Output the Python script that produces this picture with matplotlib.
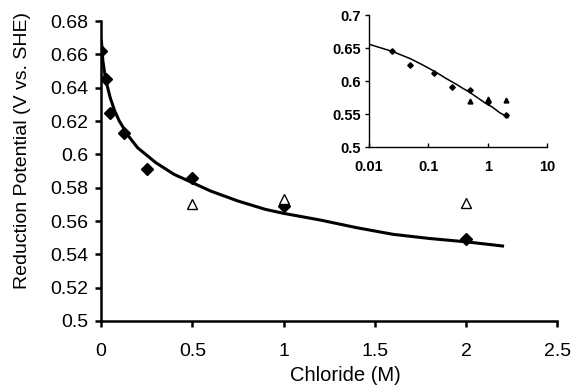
import matplotlib
matplotlib.use("Agg")
import matplotlib.pyplot as plt
from matplotlib.ticker import FixedLocator, NullLocator

plt.rcParams['font.family'] = ['Liberation Sans', 'DejaVu Sans']

# measured points (diamonds) and second data set (triangles)
dia_x = [0.0, 0.025, 0.05, 0.125, 0.25, 0.5, 1.0, 2.0]
dia_y = [0.662, 0.645, 0.625, 0.613, 0.591, 0.586, 0.569, 0.549]
tri_x = [0.5, 1.0, 2.0]
tri_y = [0.570, 0.573, 0.571]

# model curve
fit_x = [0.002, 0.01, 0.025, 0.05, 0.075, 0.1, 0.15, 0.2, 0.3, 0.4, 0.5,
         0.6, 0.75, 0.9, 1.0, 1.2, 1.4, 1.6, 1.8, 2.0, 2.2]
fit_y = [0.668, 0.656, 0.645, 0.634, 0.626, 0.620, 0.611, 0.604, 0.595,
         0.588, 0.583, 0.578, 0.572, 0.567, 0.5646, 0.5606, 0.556, 0.552,
         0.5495, 0.5475, 0.545]

fig = plt.figure(figsize=(5.71, 3.90), dpi=100)
ax = fig.add_axes([0.177, 0.177, 0.799, 0.769])

ax.plot(fit_x, fit_y, color='black', lw=2.2, zorder=2)
ax.plot(dia_x, dia_y, 'D', color='black', ms=6.5, zorder=3)
ax.plot(tri_x, tri_y, '^', mfc='white', mec='black', mew=1, ms=7.5, zorder=3)

ax.set_xlim(0, 2.5)
ax.set_ylim(0.5, 0.68)
ax.set_xticks([0, 0.5, 1, 1.5, 2, 2.5])
ax.set_xticklabels(['0', '0.5', '1', '1.5', '2', '2.5'])
ax.set_yticks([0.5, 0.52, 0.54, 0.56, 0.58, 0.6, 0.62, 0.64, 0.66, 0.68])
ax.set_yticklabels(['0.5', '0.52', '0.54', '0.56', '0.58', '0.6', '0.62', '0.64', '0.66', '0.68'])
ax.spines['top'].set_visible(False)
ax.spines['right'].set_visible(False)
for s in ['left', 'bottom']:
    ax.spines[s].set_linewidth(1.8)
ax.tick_params(direction='out', length=4, width=1.8, labelsize=14)
ax.tick_params(axis='x', pad=12)
ax.tick_params(axis='y', pad=5)
ax.set_xlabel('Chloride (M)', fontsize=14.5)
ax.set_ylabel('Reduction Potential (V vs. SHE)', fontsize=14)
ax.xaxis.set_label_coords(0.535, -0.15)
ax.yaxis.set_label_coords(-0.153, 0.567)

# inset on log scale
ins = fig.add_axes([0.646, 0.623, 0.312, 0.338])
ins.plot(fit_x[1:], fit_y[1:], color='black', lw=1.1, zorder=2)
ins.plot(dia_x[1:], dia_y[1:], 'D', color='black', ms=2.8, zorder=3)
ins.plot(tri_x, tri_y, '^', color='black', ms=3.5, zorder=3)
ins.set_xscale('log')
ins.set_xlim(0.01, 10)
ins.set_ylim(0.5, 0.7)
ins.xaxis.set_major_locator(FixedLocator([0.01, 0.1, 1, 10]))
ins.xaxis.set_minor_locator(NullLocator())
ins.set_xticklabels(['0.01', '0.1', '1', '10'])
ins.set_yticks([0.5, 0.55, 0.6, 0.65, 0.7])
ins.set_yticklabels(['0.5', '0.55', '0.6', '0.65', '0.7'])
ins.spines['top'].set_visible(False)
ins.spines['right'].set_visible(False)
for s in ['left', 'bottom']:
    ins.spines[s].set_linewidth(1.0)
ins.tick_params(axis='x', direction='in', length=3, width=1, labelsize=10.5, pad=9)
ins.tick_params(axis='y', direction='out', length=3, width=1, labelsize=10.5, pad=3)
for lab in ins.get_xticklabels() + ins.get_yticklabels():
    lab.set_fontweight('bold')
ins.patch.set_alpha(0)

fig.savefig('out.png', dpi=100)
